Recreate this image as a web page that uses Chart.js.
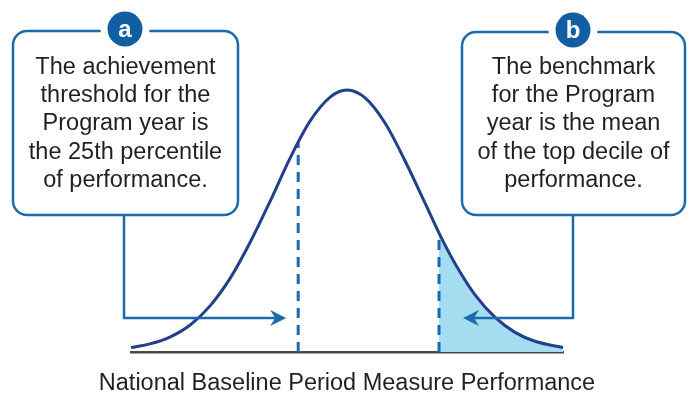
<!DOCTYPE html>
<html>
<head>
<meta charset="utf-8">
<script src="https://cdn.jsdelivr.net/npm/chart.js@4.4.1/dist/chart.umd.min.js"></script>
<style>
  html, body { margin: 0; padding: 0; background: #fff; }
</style>
</head>
<body>
<canvas id="chart" width="691" height="396"></canvas>
<script>
// bell curve (x: performance, y: relative frequency)
const curveX = [0, 4.4, 9.0, 13.7, 18.3, 22.9, 27.5, 32.2, 36.8, 41.4, 46.1, 50.0,
                54.2, 58.8, 63.4, 68.1, 71.5, 75.0, 79.6, 84.3, 88.9, 93.5, 100];
const curveY = [1.7, 3.1, 5.7, 10.3, 17.6, 28.0, 41.6, 57.5, 73.9, 88.0, 97.3, 100,
                97.0, 87.4, 73.1, 56.7, 44.7, 33.8, 21.9, 13.2, 7.5, 4.1, 1.7];

const thresholdX = 38.7;   // 25th percentile
const thresholdTop = 79.7;
const benchmarkX = 71.3;   // top decile
const benchmarkTop = 45.2;
const arrowLevel = 13;

const axisTitle = "National Baseline Period Measure Performance";
const calloutA = ["The achievement", "threshold for the", "Program year is", "the 25th percentile", "of performance."];
const calloutB = ["The benchmark", "for the Program", "year is the mean", "of the top decile of", "performance."];

const BLUE = "#1b6aad";
const DARK_BLUE = "#115fa2";
const CURVE = "#233f8c";
const SHADE = "#a6dcef";
const TEXT = "#231f20";
const FONT = '"Liberation Sans", Arial, sans-serif';

const curve = curveX.map((x, i) => ({ x: x, y: curveY[i] }));
const tail = [{ x: benchmarkX, y: benchmarkTop }].concat(curve.filter(p => p.x > benchmarkX));

function roundRect(ctx, x, y, w, h, r) {
  ctx.beginPath();
  ctx.moveTo(x + r, y);
  ctx.lineTo(x + w - r, y);
  ctx.arcTo(x + w, y, x + w, y + r, r);
  ctx.lineTo(x + w, y + h - r);
  ctx.arcTo(x + w, y + h, x + w - r, y + h, r);
  ctx.lineTo(x + r, y + h);
  ctx.arcTo(x, y + h, x, y + h - r, r);
  ctx.lineTo(x, y + r);
  ctx.arcTo(x, y, x + r, y, r);
  ctx.closePath();
}

function drawCallout(ctx, box, letter, lines) {
  ctx.save();
  ctx.lineWidth = 2.5;
  ctx.strokeStyle = BLUE;
  roundRect(ctx, box.x, box.y, box.w, box.h, 14);
  ctx.fillStyle = "#fff";
  ctx.fill();
  ctx.stroke();

  // badge
  ctx.beginPath();
  ctx.arc(box.cx, box.cy, 17.5, 0, Math.PI * 2);
  ctx.lineWidth = 14;
  ctx.strokeStyle = "#fff";
  ctx.stroke();
  ctx.fillStyle = DARK_BLUE;
  ctx.fill();
  ctx.fillStyle = "#fff";
  ctx.font = "bold 24px " + FONT;
  ctx.textAlign = "center";
  ctx.textBaseline = "middle";
  ctx.fillText(letter, box.cx, box.cy + 1);

  ctx.fillStyle = TEXT;
  ctx.font = "23.5px " + FONT;
  ctx.textBaseline = "alphabetic";
  const mid = box.x + box.w / 2;
  lines.forEach((t, i) => ctx.fillText(t, mid, 74 + i * 28.2));
  ctx.restore();
}

function drawArrow(ctx, x0, y0, yTurn, tipX, dir) {
  ctx.save();
  ctx.strokeStyle = BLUE;
  ctx.fillStyle = BLUE;
  ctx.lineWidth = 2.5;
  ctx.lineJoin = "miter";
  ctx.beginPath();
  ctx.moveTo(x0, y0);
  ctx.lineTo(x0, yTurn);
  ctx.lineTo(tipX - dir * 10, yTurn);
  ctx.stroke();
  ctx.beginPath();
  ctx.moveTo(tipX, yTurn);
  ctx.lineTo(tipX - dir * 16, yTurn - 8);
  ctx.lineTo(tipX - dir * 11, yTurn);
  ctx.lineTo(tipX - dir * 16, yTurn + 8);
  ctx.closePath();
  ctx.fill();
  ctx.restore();
}

const callouts = {
  id: "callouts",
  afterDraw(chart) {
    const ctx = chart.ctx;
    const xs = chart.scales.x;
    const ys = chart.scales.y;
    const ay = ys.getPixelForValue(arrowLevel);

    drawArrow(ctx, 124, 214, ay, xs.getPixelForValue(thresholdX) - 12, 1);
    drawArrow(ctx, 573, 214, ay, xs.getPixelForValue(benchmarkX) + 24, -1);

    drawCallout(ctx, { x: 13, y: 31, w: 225, h: 184, cx: 125, cy: 29 }, "a", calloutA);
    drawCallout(ctx, { x: 462, y: 32, w: 223, h: 183, cx: 573, cy: 30 }, "b", calloutB);

    // axis title (drawn here so it is not squeezed to the plot width)
    ctx.save();
    ctx.fillStyle = TEXT;
    ctx.font = "23.5px " + FONT;
    ctx.textAlign = "center";
    ctx.textBaseline = "alphabetic";
    ctx.fillText(axisTitle, (xs.left + xs.right) / 2, 390);
    ctx.restore();
  }
};

new Chart(document.getElementById("chart"), {
  type: "scatter",
  data: {
    datasets: [
      {
        label: "curve",
        data: curve,
        showLine: true,
        borderColor: CURVE,
        borderWidth: 3,
        pointRadius: 0,
        cubicInterpolationMode: "monotone",
        fill: false,
        clip: false,
        order: 0
      },
      {
        label: "25th percentile",
        data: [{ x: thresholdX, y: 0 }, { x: thresholdX, y: thresholdTop }],
        showLine: true,
        borderColor: BLUE,
        borderWidth: 3,
        borderDash: [10, 7],
        pointRadius: 0,
        clip: false,
        order: 1
      },
      {
        label: "top decile",
        data: [{ x: benchmarkX, y: 0 }, { x: benchmarkX, y: benchmarkTop }],
        showLine: true,
        borderColor: BLUE,
        borderWidth: 3,
        borderDash: [10, 7],
        pointRadius: 0,
        clip: false,
        order: 1
      },
      {
        label: "tail",
        data: tail,
        showLine: true,
        borderWidth: 0,
        borderColor: "rgba(0,0,0,0)",
        backgroundColor: SHADE,
        pointRadius: 0,
        cubicInterpolationMode: "monotone",
        fill: "origin",
        order: 2
      }
    ]
  },
  options: {
    responsive: false,
    animation: false,
    devicePixelRatio: 1,
    layout: { padding: { left: 131, right: 128, top: 90, bottom: 44 } },
    plugins: {
      legend: { display: false },
      tooltip: { enabled: false }
    },
    scales: {
      x: {
        type: "linear",
        min: 0,
        max: 100,
        grid: { display: false, drawTicks: false },
        ticks: { display: false },
        border: { display: true, color: "#4a4a4a", width: 2.5 }
      },
      y: { display: false, min: 0, max: 100 }
    }
  },
  plugins: [callouts]
});
</script>
</body>
</html>
